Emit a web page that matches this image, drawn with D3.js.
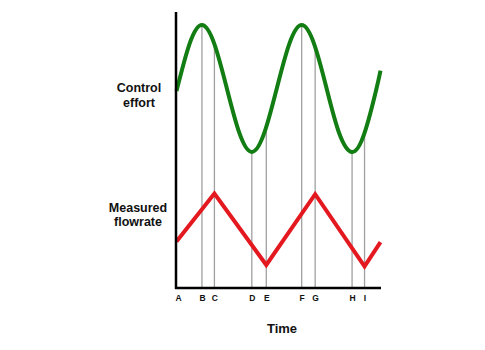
<!DOCTYPE html>
<html><head><meta charset="utf-8">
<script src="https://cdn.jsdelivr.net/npm/d3@7"></script>
<style>body{margin:0;background:#fff}svg{display:block}text{font-family:"Liberation Sans",Arial,sans-serif;font-weight:bold;fill:#111}</style>
</head><body><svg id="c" width="485" height="350"></svg>
<script>
// Time instants (arbitrary units) of the marked events
const markLabels = ["A","B","C","D","E","F","G","H","I"];
const markTimes  = [0, 2.55, 3.8, 7.55, 9.0, 12.55, 13.9, 17.6, 18.85];
// Control effort (green), read at eighth-period points
const effortT = [0, 1.3, 2.55, 3.8, 5.05, 6.3, 7.55, 8.8, 10.05, 11.3, 12.55, 13.8, 15.05, 16.3, 17.6, 18.85, 20.05, 20.45];
const effortV = [-0.04, 0.7, 1.0, 0.7, 0.0, -0.7, -1.0, -0.7, 0.0, 0.7, 1.0, 0.7, 0.0, -0.7, -1.0, -0.7, 0.0, 0.28];
// Measured flowrate (red), triangle wave vertices
const flowT = [0, 3.8, 9.0, 13.9, 18.85, 20.45];
const flowV = [0.33, 1.0, 0.0, 0.99, -0.02, 0.32];

const svg = d3.select("#c");
const x = d3.scaleLinear().domain([0, 20.45]).range([176.5, 380.5]);
const yE = d3.scaleLinear().domain([-1, 1]).range([152, 25]);
const yF = d3.scaleLinear().domain([0, 1]).range([265, 193.5]);
const axisY = 288;

const effortPts = effortT.map((t,i)=>[t, effortV[i]]);
const effLine = d3.line().x(d=>x(d[0])).y(d=>yE(d[1])).curve(d3.curveNatural);
const flowPts = flowT.map((t,i)=>[t, flowV[i]]);

// find y on effort curve at a given x by searching along the path
const effPath = svg.append("path").attr("d", effLine(effortPts)).attr("fill","none").attr("stroke","none");
const node = effPath.node(), L = node.getTotalLength();
function curveYAt(px){
  let lo=0, hi=L;
  for(let k=0;k<40;k++){const m=(lo+hi)/2; if(node.getPointAtLength(m).x<px) lo=m; else hi=m;}
  return node.getPointAtLength(lo).y;
}

// gray guide lines
svg.append("g").selectAll("line").data(markTimes.slice(1)).join("line")
  .attr("x1", d=>x(d)).attr("x2", d=>x(d))
  .attr("y1", d=>curveYAt(x(d))).attr("y2", axisY)
  .attr("stroke","#a0a0a0").attr("stroke-width",1.3);

// curves
svg.append("path").attr("d", effLine(effortPts)).attr("fill","none")
  .attr("stroke","#127d12").attr("stroke-width",4).attr("stroke-linejoin","round");
svg.append("path").attr("d", d3.line().x(d=>x(d[0])).y(d=>yF(d[1]))(flowPts)).attr("fill","none")
  .attr("stroke","#e4181f").attr("stroke-width",4).attr("stroke-linejoin","miter");

// axes
svg.append("line").attr("x1",176).attr("x2",176).attr("y1",12).attr("y2",axisY+1)
  .attr("stroke","#000").attr("stroke-width",2.5);
const xAxis = d3.axisBottom(x).tickValues(markTimes).tickFormat((d,i)=>markLabels[i]).tickSize(0).tickPadding(6.5);
const gx = svg.append("g").attr("transform",`translate(0,${axisY})`).call(xAxis);
gx.select(".domain").attr("d",`M175,0H381`).attr("stroke","#000").attr("stroke-width",2.5);
gx.selectAll("text").style("font-size","8.5px").style("font-weight","bold").attr("fill","#111")
  .attr("dx",(d,i)=>i===0?1.5:0);

// labels
const lab = svg.append("g").attr("text-anchor","middle").style("font-size","12.5px");
lab.append("text").attr("x",139).attr("y",92).text("Control");
lab.append("text").attr("x",139).attr("y",107).text("effort");
lab.append("text").attr("x",138).attr("y",212).text("Measured");
lab.append("text").attr("x",138).attr("y",226).text("flowrate");
svg.append("text").attr("x",282).attr("y",333).attr("text-anchor","middle").style("font-size","13px").text("Time");
</script></body></html>
